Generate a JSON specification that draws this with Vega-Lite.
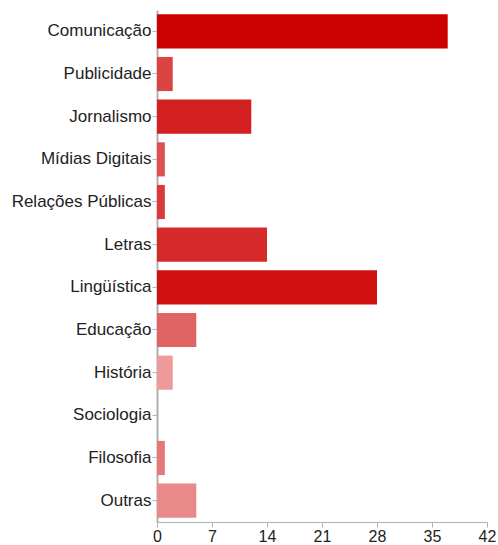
{
  "$schema": "https://vega.github.io/schema/vega-lite/v6.json",
  "autosize": {"type": "none"},
  "width": 330,
  "height": 512,
  "padding": {"left": 157, "top": 10, "right": 11, "bottom": 23},
  "background": "#ffffff",
  "config": {"view": {"stroke": null}, "font": "Liberation Sans"},
  "data": {"values": [
    {"area": "Comunicação", "n": 37},
    {"area": "Publicidade", "n": 2},
    {"area": "Jornalismo", "n": 12},
    {"area": "Mídias Digitais", "n": 1},
    {"area": "Relações Públicas", "n": 1},
    {"area": "Letras", "n": 14},
    {"area": "Lingüística", "n": 28},
    {"area": "Educação", "n": 5},
    {"area": "História", "n": 2},
    {"area": "Sociologia", "n": 0},
    {"area": "Filosofia", "n": 1},
    {"area": "Outras", "n": 5}
  ]},
  "mark": {"type": "bar"},
  "encoding": {
    "y": {
      "field": "area", "type": "nominal", "sort": null,
      "scale": {"paddingInner": 0.2, "paddingOuter": 0.1},
      "axis": {"title": null, "labelFontSize": 17, "labelColor": "#222222", "domainColor": "#b0b0b0", "tickColor": "#b0b0b0", "tickSize": 5, "labelPadding": 1, "domainWidth": 2}
    },
    "x": {
      "field": "n", "type": "quantitative",
      "scale": {"domain": [0, 42], "nice": false},
      "axis": {"title": null, "values": [0, 7, 14, 21, 28, 35, 42], "grid": false, "labelFontSize": 16, "labelColor": "#222222", "domainColor": "#b0b0b0", "tickColor": "#b0b0b0", "tickSize": 5, "labelPadding": 1, "labelFlush": false}
    },
    "color": {
      "field": "area", "type": "nominal", "legend": null,
      "scale": {
        "domain": ["Comunicação", "Publicidade", "Jornalismo", "Mídias Digitais", "Relações Públicas", "Letras", "Lingüística", "Educação", "História", "Sociologia", "Filosofia", "Outras"],
        "range": ["#cc0000", "#dc4444", "#d42020", "#df5050", "#da3a3a", "#d62a2a", "#d01010", "#e06464", "#ee9a9a", "#e88080", "#e87878", "#e88a8a"]
      }
    }
  }
}
